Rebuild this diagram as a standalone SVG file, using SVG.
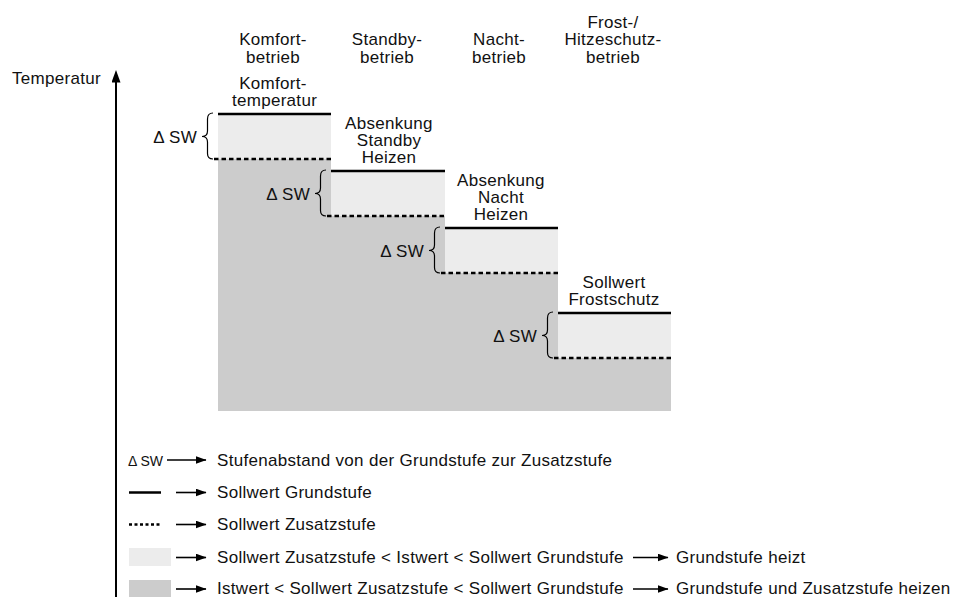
<svg xmlns="http://www.w3.org/2000/svg" width="961" height="597" viewBox="0 0 961 597">
<style>
text{font-family:"Liberation Sans",Arial,Helvetica,sans-serif;font-size:17px;letter-spacing:0.3px;fill:#111}
.c{text-anchor:middle}
.e{text-anchor:end}
.light{fill:#ececec}
.dark{fill:#cccccc}
.solid{stroke:#000;stroke-width:2.5;fill:none}
.dash{stroke:#000;stroke-width:2.5;fill:none;stroke-dasharray:4.5 3}
.ldash{stroke:#000;stroke-width:2.5;fill:none;stroke-dasharray:3 2.5}
.brace{stroke:#000;stroke-width:1.2;fill:none}
.arr{stroke:#000;stroke-width:1.6;fill:none;marker-end:url(#ah)}
</style>
<defs>
<marker id="ah" markerUnits="userSpaceOnUse" markerWidth="11" markerHeight="8" viewBox="0 0 11 8" refX="10.5" refY="4" orient="auto">
<path d="M0,0 L11,4 L0,8 z" fill="#000"/>
</marker>
<marker id="axh" markerUnits="userSpaceOnUse" markerWidth="9" markerHeight="13" viewBox="0 0 9 13" refX="4.5" refY="12" orient="0">
<path d="M4.5,0 L9,12.5 L0,12.5 z" fill="#000"/>
</marker>
</defs>
<rect width="961" height="597" fill="#fff"/>

<g id="headers">
<text class="c" x="273" y="45">Komfort-</text>
<text class="c" x="273" y="62.5">betrieb</text>
<text class="c" x="387" y="45">Standby-</text>
<text class="c" x="387" y="62.5">betrieb</text>
<text class="c" x="499" y="45">Nacht-</text>
<text class="c" x="499" y="62.5">betrieb</text>
<text class="c" x="613" y="27.5">Frost-/</text>
<text class="c" x="613" y="45">Hitzeschutz-</text>
<text class="c" x="613" y="62.5">betrieb</text>
</g>

<g id="axis">
<text class="e" x="101" y="83.5">Temperatur</text>
</g>

<g id="base-area">
<path class="dark" d="M218,159 H331 V216 H445 V273 H558 V358 H671 V411 H218 Z"/>
</g>

<g id="step-komfort">
<rect class="light" x="218" y="114" width="113" height="45"/>
<line class="solid" x1="218" y1="114" x2="331" y2="114"/>
<line class="dash" x1="214" y1="159" x2="331" y2="159"/>
<path class="brace" d="M213,113 Q207.5,113 207.5,119 L207.5,131 Q207.5,136.5 202,136.5 Q207.5,136.5 207.5,142 L207.5,153.5 Q207.5,159 213,159"/>
<text class="e" x="197" y="142.5">Δ SW</text>
<text class="c" x="273" y="89">Komfort-</text>
<text class="c" x="274.5" y="106">temperatur</text>
</g>

<g id="step-standby">
<rect class="light" x="331" y="171" width="114" height="45"/>
<line class="solid" x1="331" y1="171" x2="445" y2="171"/>
<line class="dash" x1="327" y1="216" x2="445" y2="216"/>
<path class="brace" d="M326,170 Q320.5,170 320.5,176 L320.5,188 Q320.5,193.5 315,193.5 Q320.5,193.5 320.5,199 L320.5,210.5 Q320.5,216 326,216"/>
<text class="e" x="310" y="199.5">Δ SW</text>
<text class="c" x="389" y="129">Absenkung</text>
<text class="c" x="389" y="146">Standby</text>
<text class="c" x="389" y="163">Heizen</text>
</g>

<g id="step-nacht">
<rect class="light" x="445" y="228" width="113" height="45"/>
<line class="solid" x1="445" y1="228" x2="558" y2="228"/>
<line class="dash" x1="441" y1="273" x2="558" y2="273"/>
<path class="brace" d="M440,227 Q434.5,227 434.5,233 L434.5,245 Q434.5,250.5 429,250.5 Q434.5,250.5 434.5,256 L434.5,267.5 Q434.5,273 440,273"/>
<text class="e" x="424" y="256.5">Δ SW</text>
<text class="c" x="501" y="186">Absenkung</text>
<text class="c" x="501" y="203">Nacht</text>
<text class="c" x="501" y="220">Heizen</text>
</g>

<g id="step-frost">
<rect class="light" x="558" y="313" width="113" height="45"/>
<line class="solid" x1="558" y1="313" x2="671" y2="313"/>
<line class="dash" x1="554" y1="358" x2="671" y2="358"/>
<path class="brace" d="M553,312 Q547.5,312 547.5,318 L547.5,330 Q547.5,335.5 542,335.5 Q547.5,335.5 547.5,341 L547.5,352.5 Q547.5,358 553,358"/>
<text class="e" x="537" y="341.5">Δ SW</text>
<text class="c" x="614" y="288">Sollwert</text>
<text class="c" x="614" y="305">Frostschutz</text>
</g>

<g id="legend">
<text x="128" y="465.5" style="font-size:14px;letter-spacing:0">Δ SW</text>
<text x="217" y="465.5">Stufenabstand von der Grundstufe zur Zusatzstufe</text>
<line class="solid" x1="129" y1="492.5" x2="161" y2="492.5"/>
<text x="217" y="498">Sollwert Grundstufe</text>
<line class="ldash" x1="129" y1="524.5" x2="162" y2="524.5"/>
<text x="217" y="530">Sollwert Zusatzstufe</text>
<rect class="light" x="129" y="548" width="42" height="18"/>
<text x="217" y="563">Sollwert Zusatzstufe &lt; Istwert &lt; Sollwert Grundstufe</text>
<text x="676" y="563">Grundstufe heizt</text>
<rect class="dark" x="129" y="580" width="42" height="18"/>
<text x="217" y="594">Istwert &lt; Sollwert Zusatzstufe &lt; Sollwert Grundstufe</text>
<text x="676" y="594">Grundstufe und Zusatzstufe heizen</text>
</g>

<g id="connectors">
<line x1="116" y1="597" x2="116" y2="82" stroke="#000" stroke-width="2" marker-end="url(#axh)"/>
<line class="arr" x1="167" y1="460" x2="206" y2="460"/>
<line class="arr" x1="176" y1="492.5" x2="206" y2="492.5"/>
<line class="arr" x1="176" y1="524.5" x2="206" y2="524.5"/>
<line class="arr" x1="176" y1="557.5" x2="206" y2="557.5"/>
<line class="arr" x1="633" y1="557.5" x2="668" y2="557.5"/>
<line class="arr" x1="176" y1="589" x2="206" y2="589"/>
<line class="arr" x1="633" y1="589" x2="668" y2="589"/>
</g>
</svg>
